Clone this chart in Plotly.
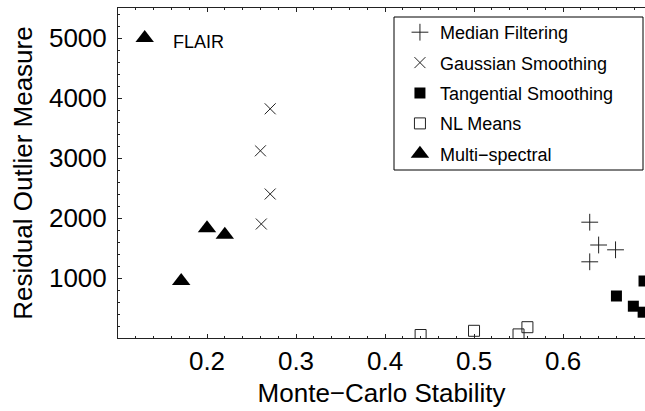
import plotly.graph_objects as go

# Data
median_x = [0.630, 0.640, 0.659, 0.630]
median_y = [1930, 1550, 1470, 1270]

gauss_x = [0.271, 0.260, 0.271, 0.261]
gauss_y = [3820, 3120, 2400, 1900]

tang_x = [0.660, 0.679, 0.690, 0.691]
tang_y = [700, 530, 430, 950]

nl_x = [0.440, 0.500, 0.550, 0.560]
nl_y = [50, 120, 60, 180]

multi_x = [0.171, 0.200, 0.220]
multi_y = [950, 1830, 1720]

flair_x = [0.130]
flair_y = [5000]
flair_label = ["FLAIR"]

x_ticks = [0.2, 0.3, 0.4, 0.5, 0.6]
y_ticks = [1000, 2000, 3000, 4000, 5000]

ink = "#222222"
font = "Liberation Sans, Arial, Helvetica, sans-serif"

fig = go.Figure()
fig.add_trace(go.Scatter(x=median_x, y=median_y, mode="markers", name="Median Filtering",
                         legendgroup="a",
                         marker=dict(symbol="cross-thin-open", size=12, color=ink,
                                     line=dict(width=1, color=ink))))
fig.add_trace(go.Scatter(x=gauss_x, y=gauss_y, mode="markers", name="Gaussian Smoothing",
                         legendgroup="b",
                         marker=dict(symbol="x-thin-open", size=11, color=ink,
                                     line=dict(width=1, color=ink))))
fig.add_trace(go.Scatter(x=tang_x, y=tang_y, mode="markers", name="Tangential Smoothing",
                         legendgroup="c",
                         marker=dict(symbol="square", size=11, color="black",
                                     line=dict(width=0))))
fig.add_trace(go.Scatter(x=nl_x, y=nl_y, mode="markers", name="NL Means",
                         legendgroup="d",
                         marker=dict(symbol="square-open", size=11, color=ink,
                                     line=dict(width=1, color=ink))))
fig.add_trace(go.Scatter(x=multi_x, y=multi_y, mode="markers", name="Multi\u2212spectral",
                         legendgroup="e",
                         marker=dict(symbol="triangle-up", size=16, color="black",
                                     line=dict(width=0))))
fig.add_trace(go.Scatter(x=flair_x, y=flair_y, mode="markers", showlegend=False,
                         marker=dict(symbol="triangle-up", size=16, color="black",
                                     line=dict(width=0))))

fig.update_layout(
    width=645, height=411,
    margin=dict(l=118, r=0, t=8, b=73),
    paper_bgcolor="white", plot_bgcolor="white",
    font=dict(family=font, color="black"),
    showlegend=True,
    legend=dict(x=0.535, y=(338 - 14) / 330, xanchor="left", yanchor="top",
                bgcolor="rgba(0,0,0,0)", borderwidth=0,
                font=dict(family=font, size=18, color="black"),
                tracegroupgap=4, itemsizing="trace"),
    shapes=[dict(type="rect", xref="paper", yref="paper",
                 x0=(394 - 118) / 527, x1=(643 - 118) / 527,
                 y0=(338 - 170) / 330, y1=(338 - 17) / 330,
                 line=dict(color="black", width=1), fillcolor="rgba(0,0,0,0)")],
    annotations=[dict(x=fx, y=fy, text=ft, xref="x", yref="y", showarrow=False,
                      xanchor="left", yanchor="middle", xshift=26, yshift=-4,
                      font=dict(family=font, size=18, color="black"))
                 for fx, fy, ft in zip(flair_x, flair_y, flair_label)],
)

fig.update_xaxes(range=[0.1, 0.6921], tickvals=x_ticks, ticktext=[f"{v:.1f}" for v in x_ticks],
                 showgrid=False, zeroline=False,
                 showline=True, linecolor=ink, linewidth=1, mirror="ticks",
                 ticks="inside", ticklen=4, tickcolor=ink, tickwidth=1,
                 minor=dict(dtick=0.02, tick0=0.1, ticks="inside", ticklen=2, tickcolor=ink, showgrid=False),
                 tickfont=dict(size=26, family=font, color="black"),
                 title=dict(text="Monte\u2212Carlo Stability", font=dict(size=26, family=font, color="black"),
                            standoff=8))
fig.update_yaxes(range=[0, 5500], tickvals=y_ticks, showgrid=False, zeroline=False,
                 showline=True, linecolor=ink, linewidth=1, mirror=False,
                 ticks="inside", ticklen=4, tickcolor=ink, tickwidth=1,
                 minor=dict(dtick=200, tick0=0, ticks="inside", ticklen=2, tickcolor=ink, showgrid=False),
                 tickfont=dict(size=26, family=font, color="black"),
                 ticklabelstandoff=5,
                 title=dict(text="Residual Outlier Measure", font=dict(size=26, family=font, color="black"),
                            standoff=8))

fig.write_html("out.html", config={"displayModeBar": False},
               post_script="document.body.style.margin='0px';")
